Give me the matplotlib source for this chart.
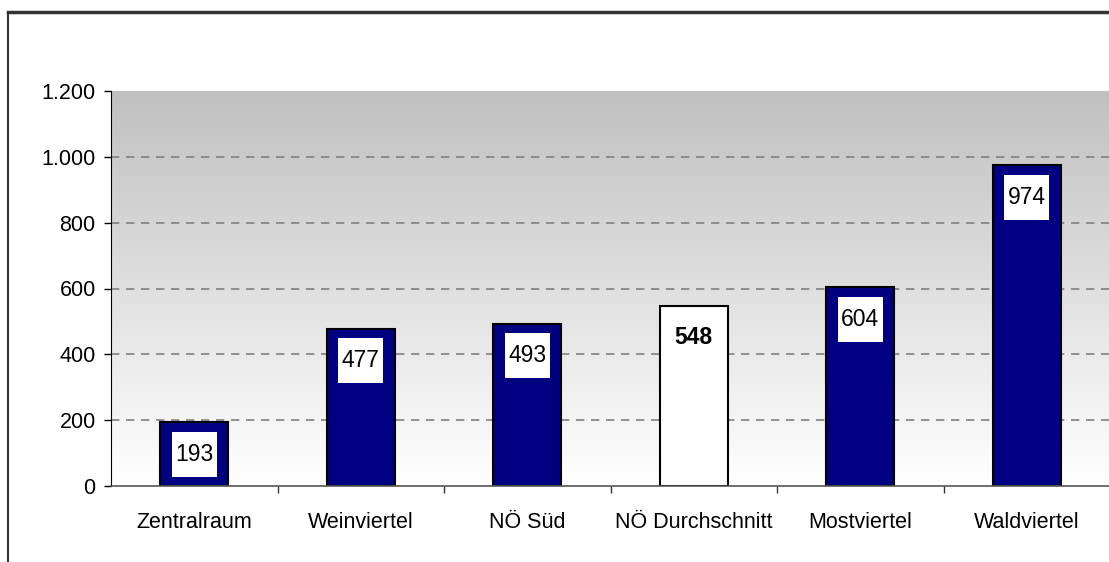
import numpy as np
import matplotlib.pyplot as plt
from matplotlib.colors import LinearSegmentedColormap
from matplotlib.patches import Rectangle

regions = ["Zentralraum", "Weinviertel", "NÖ Süd", "NÖ Durchschnitt", "Mostviertel", "Waldviertel"]
values = [193, 477, 493, 548, 604, 974]
is_average = [False, False, False, True, False, False]
y_ticks = [0, 200, 400, 600, 800, 1000, 1200]
y_tick_labels = ["0", "200", "400", "600", "800", "1.000", "1.200"]

plt.rcParams["font.family"] = ["Liberation Sans", "DejaVu Sans"]

W, H = 1109, 562
fig = plt.figure(figsize=(W / 100, H / 100), dpi=100)

# outer chart frame (only left and top edges fall inside the image)
fig.add_artist(plt.Line2D([8 / W, 8 / W], [0, 1 - 12 / H], color="#333333", lw=1.5))
fig.add_artist(plt.Line2D([8 / W, 1], [1 - 12 / H, 1 - 12 / H], color="#333333", lw=2.5))

ax_left, ax_right, ax_top, ax_bottom = 111, 1110, 91, 486
ax = fig.add_axes([ax_left / W, 1 - ax_bottom / H,
                   (ax_right - ax_left) / W, (ax_bottom - ax_top) / H])

n = len(regions)
x = np.arange(n)

# grey-to-white gradient background (grey at top)
grad = np.linspace(0, 1, 256).reshape(-1, 1)
bg_cmap = LinearSegmentedColormap.from_list("bg", ["#c0c0c0", "#ffffff"])
ax.imshow(grad, cmap=bg_cmap, aspect="auto", origin="upper",
          extent=(-0.5, n - 0.5, 0, 1200), zorder=0)
ax.set_xlim(-0.5, n - 0.5)
ax.set_ylim(0, 1200)

for yv in y_ticks[1:-1]:
    ax.axhline(yv, color="#808080", lw=1.2, ls=(0, (5, 4)), zorder=1)

colors = ["white" if a else "#000080" for a in is_average]
ax.bar(x, values, width=0.41, color=colors, edgecolor="black", linewidth=1.5, zorder=2)

# value label boxes
px_x = n / (ax_right - ax_left)           # data units per pixel (x)
px_y = 1200 / (ax_bottom - ax_top)        # data units per pixel (y)
box_w, box_h, drop = 45, 45, 32
for xi, v, avg in zip(x, values, is_average):
    cy = v - drop * px_y
    if not avg:
        ax.add_patch(Rectangle((xi - box_w / 2 * px_x, cy - box_h / 2 * px_y),
                               box_w * px_x, box_h * px_y,
                               facecolor="white", edgecolor="none", zorder=3))
    ax.text(xi, cy, str(v), ha="center", va="center", fontsize=16.5,
            fontweight="bold" if avg else "normal", zorder=4)

ax.set_yticks(y_ticks)
ax.set_yticklabels(y_tick_labels, fontsize=15.5)
ax.set_xticks(x)
ax.set_xticklabels(regions, fontsize=15.5)
ax.tick_params(axis="x", length=0, pad=19)
ax.tick_params(axis="y", length=5, width=1, pad=6)
ax.set_xticks(np.arange(0.5, n - 0.5), minor=True)
ax.tick_params(axis="x", which="minor", length=5, width=1, color="#333333")

for s in ["top", "right"]:
    ax.spines[s].set_visible(False)
ax.spines["left"].set_color("black")
ax.spines["bottom"].set_color("#555555")
ax.spines["bottom"].set_linewidth(1.2)

fig.savefig("out.png", dpi=100)
